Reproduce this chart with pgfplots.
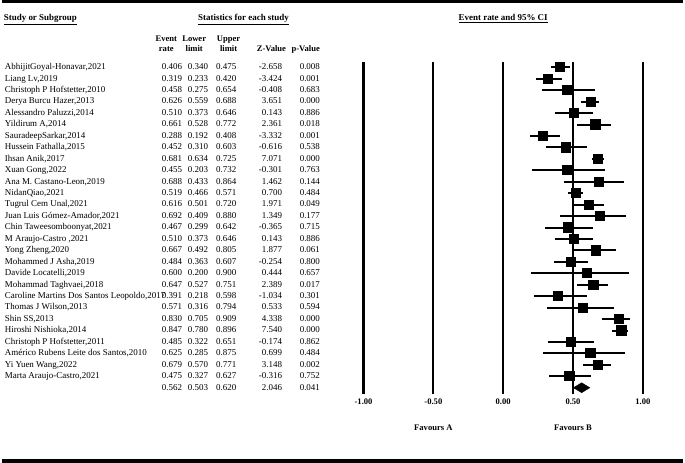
\documentclass[border=0pt]{standalone}
\usepackage{pgfplots}
\usepackage{pgfplotstable}
\pgfplotsset{compat=1.18}
\usepackage{fontspec}
\setmainfont{Liberation Serif}
\newcommand\tf{\fontsize{9}{10}\selectfont}
\newcommand\hf{\fontsize{8.6}{9.6}\selectfont\bfseries}
\newcommand\ttl{\fontsize{9}{10}\selectfont\bfseries}

\pgfplotstableread[col sep=semicolon]{
row;name;er;ll;ul;z;p
1;AbhijitGoyal-Honavar,2021;0.406;0.340;0.475;-2.658;0.008
2;Liang Lv,2019;0.319;0.233;0.420;-3.424;0.001
3;Christoph P Hofstetter,2010;0.458;0.275;0.654;-0.408;0.683
4;Derya Burcu Hazer,2013;0.626;0.559;0.688;3.651;0.000
5;Alessandro Paluzzi,2014;0.510;0.373;0.646;0.143;0.886
6;Yildirum A,2014;0.661;0.528;0.772;2.361;0.018
7;SauradeepSarkar,2014;0.288;0.192;0.408;-3.332;0.001
8;Hussein Fathalla,2015;0.452;0.310;0.603;-0.616;0.538
9;Ihsan Anik,2017;0.681;0.634;0.725;7.071;0.000
10;Xuan Gong,2022;0.455;0.203;0.732;-0.301;0.763
11;Ana M. Castano-Leon,2019;0.688;0.433;0.864;1.462;0.144
12;NidanQiao,2021;0.519;0.466;0.571;0.700;0.484
13;Tugrul Cem Unal,2021;0.616;0.501;0.720;1.971;0.049
14;Juan Luis Gómez-Amador,2021;0.692;0.409;0.880;1.349;0.177
15;Chin Taweesomboonyat,2021;0.467;0.299;0.642;-0.365;0.715
16;M Araujo-Castro ,2021;0.510;0.373;0.646;0.143;0.886
17;Yong Zheng,2020;0.667;0.492;0.805;1.877;0.061
18;Mohammed J Asha,2019;0.484;0.363;0.607;-0.254;0.800
19;Davide Locatelli,2019;0.600;0.200;0.900;0.444;0.657
20;Mohammad Taghvaei,2018;0.647;0.527;0.751;2.389;0.017
21;Caroline Martins Dos Santos Leopoldo,2017;0.391;0.218;0.598;-1.034;0.301
22;Thomas J Wilson,2013;0.571;0.316;0.794;0.533;0.594
23;Shin SS,2013;0.830;0.705;0.909;4.338;0.000
24;Hiroshi Nishioka,2014;0.847;0.780;0.896;7.540;0.000
25;Christoph P Hofstetter,2011;0.485;0.322;0.651;-0.174;0.862
26;Américo Rubens Leite dos Santos,2010;0.625;0.285;0.875;0.699;0.484
27;Yi Yuen Wang,2022;0.679;0.570;0.771;3.148;0.002
28;Marta Araujo-Castro,2021;0.475;0.327;0.627;-0.316;0.752
}\studies

\pgfplotstableread[col sep=semicolon]{
row;er;ll;ul;z;p
29;0.562;0.503;0.620;2.046;0.041
}\summary

\pgfplotsset{
  txt/.style={draw=none, only marks, mark=none,
    nodes near coords={\pgfplotspointmeta},
    point meta=explicit symbolic,
    every node near coord/.append style={inner sep=0pt, font=\tf, text=black}},
  txtR/.style={txt, every node near coord/.append style={anchor=mid east}},
  txtL/.style={txt, every node near coord/.append style={anchor=mid west}},
}

\begin{document}
\begin{tikzpicture}
\begin{axis}[
  scale only axis, width=685pt, height=466pt,
  xmin=-3.591, xmax=1.2896, ymin=-4.870, ymax=35.652, y dir=reverse,
  hide axis, clip=false,
]
% rules
\addplot[black, line width=3pt] coordinates {(-3.591,-4.757) (1.2896,-4.757)};
\addplot[black, line width=3.5pt] coordinates {(-3.591,35.39) (1.2896,35.39)};

% vertical reference lines
\addplot[black, line width=2.2pt] coordinates {(-1,0.52) (-1,29.57)};
\addplot[black, line width=2.2pt] coordinates {(-0.5,0.52) (-0.5,29.57)};
\addplot[black, line width=2.2pt] coordinates {(0,0.52) (0,29.57)};
\addplot[black, line width=2.2pt] coordinates {(0.5,0.52) (0.5,29.57)};
\addplot[black, line width=2.2pt] coordinates {(1,0.52) (1,29.57)};

% study estimates with CI
\addplot[only marks, mark=square*, mark size=4.6pt, black, mark options={line width=0pt},
  error bars/.cd, x dir=both, x explicit, error mark=none,
  error bar style={line width=2pt, black}]
  table[x=er, y=row,
        x error plus expr=\thisrow{ul}-\thisrow{er},
        x error minus expr=\thisrow{er}-\thisrow{ll}]{\studies};

% summary diamond
\addplot[black, fill=black] coordinates {(0.503,29) (0.562,28.565) (0.620,29) (0.562,29.435)} -- cycle;

% table text
\addplot[txtL] table[x expr=-3.570, y=row, meta=name]{\studies};
\addplot[txtR] table[x expr=-2.298, y=row, meta=er]{\studies};
\addplot[txtR] table[x expr=-2.1126, y=row, meta=ll]{\studies};
\addplot[txtR] table[x expr=-1.9095, y=row, meta=ul]{\studies};
\addplot[txtR] table[x expr=-1.5818, y=row, meta=z]{\studies};
\addplot[txtR] table[x expr=-1.311, y=row, meta=p]{\studies};
\addplot[txtR] table[x expr=-2.298, y=row, meta=er]{\summary};
\addplot[txtR] table[x expr=-2.1126, y=row, meta=ll]{\summary};
\addplot[txtR] table[x expr=-1.9095, y=row, meta=ul]{\summary};
\addplot[txtR] table[x expr=-1.5818, y=row, meta=z]{\summary};
\addplot[txtR] table[x expr=-1.311, y=row, meta=p]{\summary};

% titles
\node[anchor=mid west, inner sep=0pt, font=\ttl] at (axis cs:-3.577,-3.304) {\underline{Study or Subgroup}};
\node[anchor=mid, inner sep=0pt, font=\ttl] at (axis cs:-1.8597,-3.304) {\underline{Statistics for each study}};
\node[anchor=mid, inner sep=0pt, font=\ttl] at (axis cs:0,-3.304) {\underline{Event rate and 95\% CI}};

% column headers
\node[anchor=mid, inner sep=0pt, font=\hf] at (axis cs:-2.4126,-1.478) {Event};
\node[anchor=mid, inner sep=0pt, font=\hf] at (axis cs:-2.4126,-0.565) {rate};
\node[anchor=mid, inner sep=0pt, font=\hf] at (axis cs:-2.2128,-1.478) {Lower};
\node[anchor=mid, inner sep=0pt, font=\hf] at (axis cs:-2.2128,-0.565) {limit};
\node[anchor=mid, inner sep=0pt, font=\hf] at (axis cs:-1.9664,-1.478) {Upper};
\node[anchor=mid, inner sep=0pt, font=\hf] at (axis cs:-1.9664,-0.565) {limit};
\node[anchor=mid, inner sep=0pt, font=\hf] at (axis cs:-1.6599,-0.565) {Z-Value};
\node[anchor=mid, inner sep=0pt, font=\hf] at (axis cs:-1.4143,-0.565) {p-Value};

% x labels
\node[anchor=mid, inner sep=0pt, font=\hf] at (axis cs:-1,30.26) {-1.00};
\node[anchor=mid, inner sep=0pt, font=\hf] at (axis cs:-0.5,30.26) {-0.50};
\node[anchor=mid, inner sep=0pt, font=\hf] at (axis cs:0,30.26) {0.00};
\node[anchor=mid, inner sep=0pt, font=\hf] at (axis cs:0.5,30.26) {0.50};
\node[anchor=mid, inner sep=0pt, font=\hf] at (axis cs:1,30.26) {1.00};
\node[anchor=mid, inner sep=0pt, font=\hf] at (axis cs:-0.5,32.52) {Favours A};
\node[anchor=mid, inner sep=0pt, font=\hf] at (axis cs:0.5,32.52) {Favours B};
\end{axis}
\end{tikzpicture}
\end{document}
